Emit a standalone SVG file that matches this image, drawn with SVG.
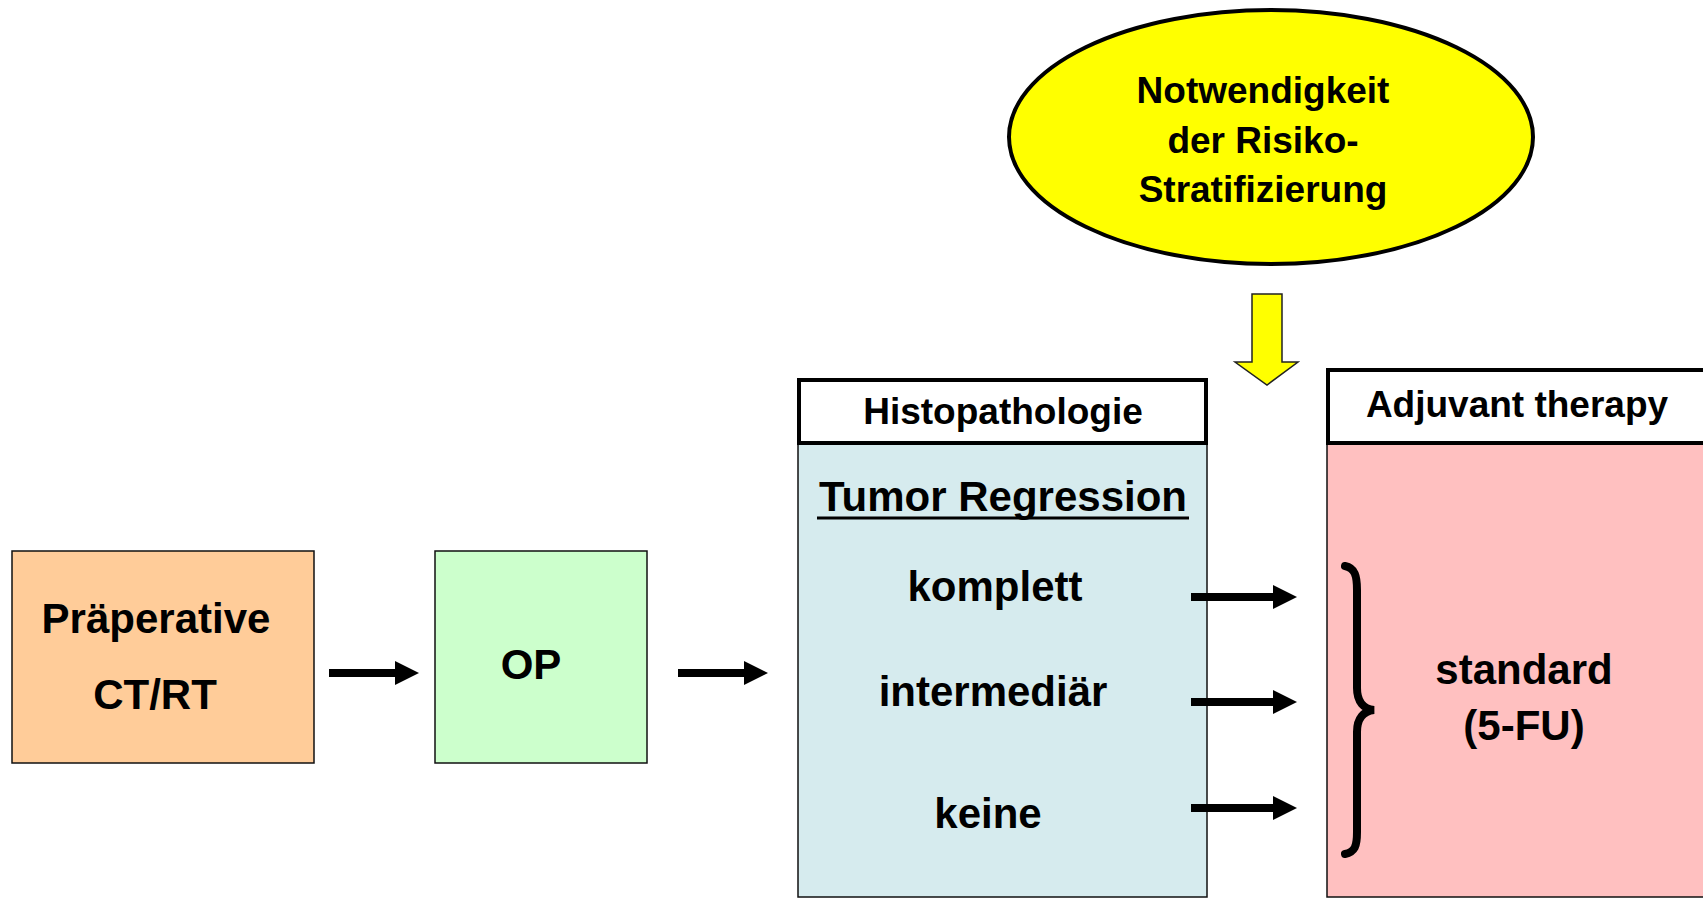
<svg xmlns="http://www.w3.org/2000/svg" width="1703" height="899" viewBox="0 0 1703 899">
  <style>
    text { font-family: "Liberation Sans", Arial, sans-serif; font-weight: bold; fill: #000; text-anchor: middle; }
    .big { font-size: 42px; }
    .head { font-size: 37px; }
    .box { stroke: #111; stroke-width: 1.5; }
    .hdr { fill: #fff; stroke: #000; stroke-width: 4; }
    .conn { stroke: #000; stroke-width: 8; fill: none; marker-end: url(#head); }
  </style>
  <defs>
    <marker id="head" markerUnits="userSpaceOnUse" markerWidth="24" markerHeight="24" viewBox="0 0 24 24" refX="1" refY="12" orient="auto">
      <path d="M0,0 L24,12 L0,24 Z" fill="#000"/>
    </marker>
  </defs>

  <rect width="1703" height="899" fill="#fff"/>

  <!-- risk stratification bubble -->
  <g id="node-risiko">
    <ellipse cx="1271" cy="137" rx="262" ry="127" fill="#ffff00" stroke="#000" stroke-width="4"/>
    <text class="head" x="1263" y="103">Notwendigkeit</text>
    <text class="head" x="1263" y="153">der Risiko-</text>
    <text class="head" x="1263" y="202">Stratifizierung</text>
  </g>

  <!-- preoperative therapy -->
  <g id="node-praep">
    <rect class="box" x="12" y="551" width="302" height="212" fill="#ffcc99"/>
    <text class="big" x="156" y="633">Präperative</text>
    <text class="big" x="155" y="709">CT/RT</text>
  </g>

  <!-- surgery -->
  <g id="node-op">
    <rect class="box" x="435" y="551" width="212" height="212" fill="#ccffcc"/>
    <text class="big" x="531" y="679">OP</text>
  </g>

  <!-- histopathology column -->
  <g id="node-histo">
    <rect class="box" x="798" y="443" width="409" height="454" fill="#d6ebee"/>
    <rect class="hdr" x="799" y="380" width="407" height="63"/>
    <text class="head" x="1003" y="424">Histopathologie</text>
    <text class="big" x="1003" y="511">Tumor Regression</text>
    <line x1="817" y1="518" x2="1189" y2="518" stroke="#000" stroke-width="3"/>
    <text class="big" x="995" y="601">komplett</text>
    <text class="big" x="993" y="706">intermediär</text>
    <text class="big" x="988" y="828">keine</text>
  </g>

  <!-- adjuvant therapy column -->
  <g id="node-adjuvant">
    <rect class="box" x="1327" y="443" width="390" height="454" fill="#ffc0c0"/>
    <rect class="hdr" x="1328" y="370" width="400" height="73"/>
    <text class="head" x="1517" y="417">Adjuvant therapy</text>
    <path d="M1345,566 C1355,568 1357,576 1357,590 L1357,688 C1357,702 1364,709 1374,710 C1364,711 1357,718 1357,732 L1357,832 C1357,846 1355,852 1345,854" fill="none" stroke="#000" stroke-width="8" stroke-linecap="round"/>
    <text class="big" x="1524" y="684">standard</text>
    <text class="big" x="1524" y="740">(5-FU)</text>
  </g>

  <!-- connectors -->
  <g id="connectors">
    <line class="conn" x1="329" y1="673" x2="396" y2="673"/>
    <line class="conn" x1="678" y1="673" x2="745" y2="673"/>
    <line class="conn" x1="1191" y1="597" x2="1274" y2="597"/>
    <line class="conn" x1="1191" y1="702" x2="1274" y2="702"/>
    <line class="conn" x1="1191" y1="808" x2="1274" y2="808"/>
    <polygon points="1252,294 1282,294 1282,362 1298,362 1267,385 1235,362 1252,362" fill="#ffff00" stroke="#222" stroke-width="1.5"/>
  </g>
</svg>
